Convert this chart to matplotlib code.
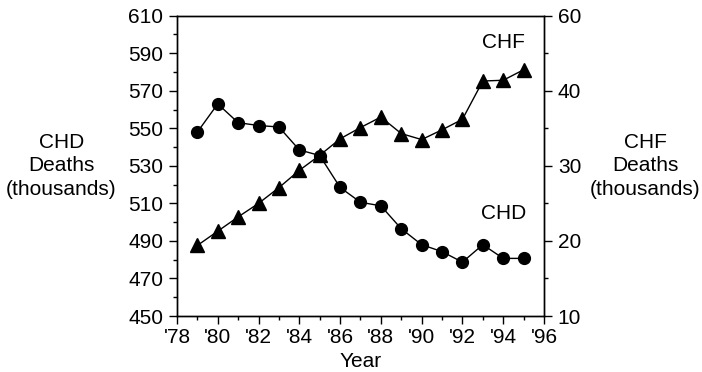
import matplotlib
matplotlib.use("Agg")
import matplotlib.pyplot as plt
from matplotlib.ticker import MultipleLocator, FixedLocator

plt.rcParams["font.family"] = ["Liberation Sans", "DejaVu Sans"]

years = list(range(1979, 1996))
chd = [548, 563, 553, 551.5, 550.7, 538.5, 535.5, 518.5, 510.6, 508.7,
       496.5, 488, 484.3, 478.7, 488, 480.7, 480.7]
chf = [19.4, 21.3, 23.2, 25.0, 27.1, 29.4, 31.4, 33.6, 35.1, 36.5,
       34.3, 33.5, 34.8, 36.2, 41.3, 41.4, 42.8]

x_ticks = list(range(1978, 1997, 2))
x_labels = ["'%02d" % (y % 100) for y in x_ticks]
left_ticks = list(range(450, 611, 20))
right_ticks = [10, 20, 30, 40, 50]
right_labels = ["10", "20", "30", "40", "60"]

FS = 15

fig = plt.figure(figsize=(7.02, 3.72), dpi=100)
ax = fig.add_axes([0.2521, 0.1505, 0.5228, 0.8073])
ax2 = ax.twinx()

ax.plot(years, chd, color="black", lw=1, marker="o", ms=8.5, zorder=3)
ax2.plot(years, chf, color="black", lw=1, marker="^", ms=10, zorder=3)

ax.set_xlim(1978, 1996)
ax.set_ylim(450, 610)
ax2.set_ylim(10, 50)

ax.xaxis.set_major_locator(FixedLocator(x_ticks))
ax.set_xticklabels(x_labels)
ax.xaxis.set_minor_locator(MultipleLocator(1))
ax.yaxis.set_major_locator(FixedLocator(left_ticks))
ax.yaxis.set_minor_locator(MultipleLocator(10))
ax2.yaxis.set_major_locator(FixedLocator(right_ticks))
ax2.set_yticklabels(right_labels)
ax2.yaxis.set_minor_locator(MultipleLocator(5))

for a in (ax, ax2):
    a.tick_params(which="major", direction="out", length=5.5, width=1,
                  labelsize=FS, pad=4.5)
    a.tick_params(which="minor", direction="out", length=3, width=1)
    for s in a.spines.values():
        s.set_linewidth(1)
ax.tick_params(axis="x", which="both", top=False)
ax.tick_params(axis="x", which="major", pad=3)

ax.set_xlabel("Year", fontsize=FS, labelpad=3.5)

fig.text(0.0876, 0.554, "CHD\nDeaths\n(thousands)", ha="center", va="center",
         fontsize=FS, linespacing=1.3)
fig.text(0.9195, 0.554, "CHF\nDeaths\n(thousands)", ha="center", va="center",
         fontsize=FS, linespacing=1.3)

ax2.text(1994.0, 46.4, "CHF", ha="center", va="center", fontsize=FS)
ax2.text(1994.0, 23.7, "CHD", ha="center", va="center", fontsize=FS)

fig.savefig("out.png", dpi=100)
